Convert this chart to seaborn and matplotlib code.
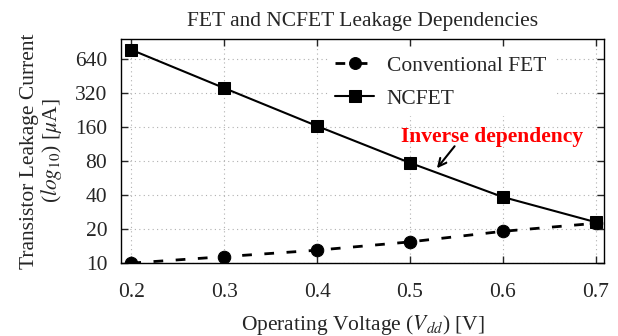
import matplotlib
matplotlib.use("Agg")
import matplotlib.pyplot as plt
import seaborn as sns
import pandas as pd
from matplotlib.ticker import FixedLocator, FixedFormatter, NullLocator

voltage = [0.2, 0.3, 0.4, 0.5, 0.6, 0.7]
conventional = [10.0, 11.4, 13.0, 15.4, 19.1, 22.5]
ncfet = [770, 353, 163, 77, 38.4, 23.0]
y_ticks = [10, 20, 40, 80, 160, 320, 640]
x_ticks = [0.2, 0.3, 0.4, 0.5, 0.6, 0.7]

sns.set_style("ticks")
plt.rcParams['font.family'] = ['Liberation Serif', 'DejaVu Serif']
plt.rcParams['mathtext.fontset'] = 'stix'

FS = 15.5

fig, ax = plt.subplots(figsize=(6.18, 3.36), dpi=100)
fig.subplots_adjust(left=0.196, right=0.977, top=0.884, bottom=0.217)

df_c = pd.DataFrame({"V": voltage, "I": conventional})
df_n = pd.DataFrame({"V": voltage, "I": ncfet})

sns.lineplot(data=df_c, x="V", y="I", ax=ax, color="black", lw=2.0,
             linestyle=(0, (3.5, 4.5)), marker="o", markersize=9,
             markeredgecolor="black", label="Conventional FET", zorder=3)
sns.lineplot(data=df_n, x="V", y="I", ax=ax, color="black", lw=1.5,
             marker="s", markersize=9, markeredgecolor="black",
             label="NCFET", zorder=3)

ax.set_yscale("log", base=2)
ax.set_ylim(10, 960)
ax.set_xlim(0.189, 0.7086)
ax.yaxis.set_major_locator(FixedLocator(y_ticks))
ax.yaxis.set_major_formatter(FixedFormatter([str(t) for t in y_ticks]))
ax.yaxis.set_minor_locator(NullLocator())
ax.xaxis.set_major_locator(FixedLocator(x_ticks))
ax.set_xticklabels([f"{t:.1f}" for t in x_ticks])

ax.grid(True, which="major", color="#b0b0b0", linestyle=(0, (1, 3)), lw=0.8)
ax.tick_params(axis="both", which="major", direction="in", length=5,
               width=1.0, top=True, right=True, labelsize=FS)
ax.tick_params(axis="x", pad=14)
ax.tick_params(axis="y", pad=10)
for s in ax.spines.values():
    s.set_linewidth(1.0)
    s.set_color("black")

ax.set_xlabel(r"Operating Voltage ($V_{dd}$) [V]", fontsize=FS, labelpad=8)
ax.set_ylabel("Transistor Leakage Current\n" + r"($log_{10}$) [$\mu$A]",
              fontsize=FS, labelpad=8, linespacing=1.0)
ax.set_title("FET and NCFET Leakage Dependencies", fontsize=FS, pad=9)

leg = ax.legend(loc="upper left", bbox_to_anchor=(0.43, 0.955), frameon=True,
                fontsize=FS, handlelength=1.8, borderpad=0.3, labelspacing=0.6,
                handletextpad=0.6, borderaxespad=0.0, markerscale=0.95)
leg.get_frame().set_edgecolor("white")
leg.get_frame().set_facecolor("white")
leg.get_frame().set_alpha(1.0)

ax.text(0.588, 130, "Inverse dependency", ha="center", va="center",
        color="red", fontweight="bold", fontsize=FS)
ax.annotate("", xy=(0.529, 69), xytext=(0.548, 108),
            arrowprops=dict(arrowstyle="->", color="black", lw=1.5,
                            shrinkA=0, shrinkB=0, mutation_scale=14))

fig.savefig("out.png", dpi=100)
